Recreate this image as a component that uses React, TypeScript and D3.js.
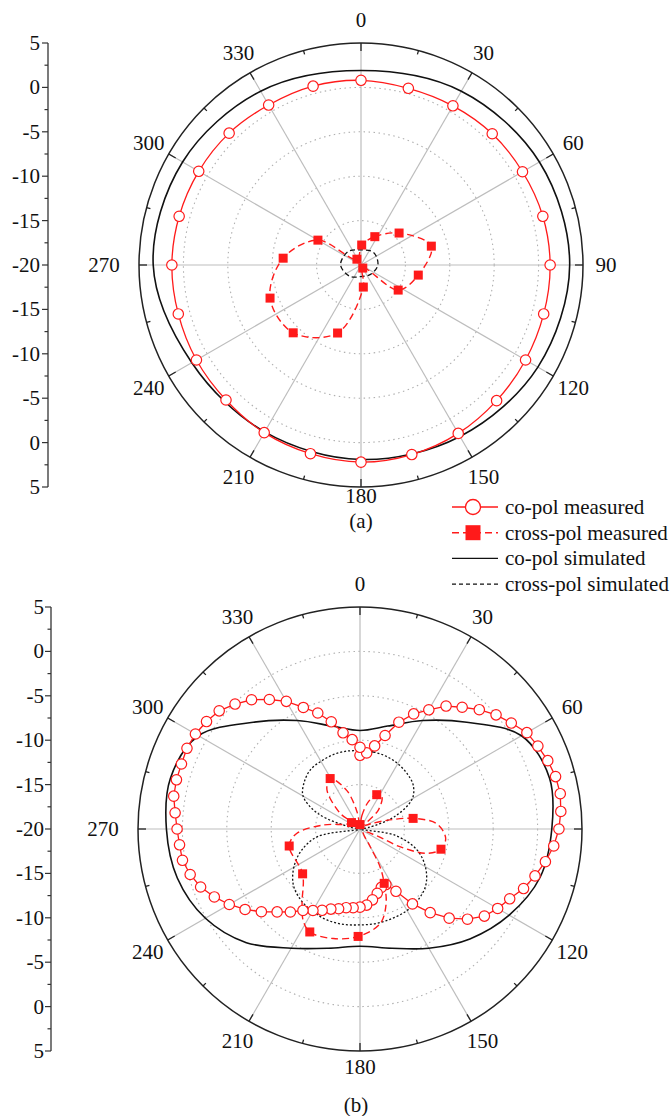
import React from 'react';
import * as d3 from 'd3';

const RAD = Math.PI / 180;
const FONT = "'Liberation Serif', 'Times New Roman', Times, serif";
const RED = '#ff1a1a';

// ---------- data (dB) ----------
const POLAR_TICKS = [0, 30, 60, 90, 120, 150, 180, 210, 240, 270, 300, 330];
const GRID_DB = [-15, -10, -5, 0];
const AXIS_UPPER = [5, 0, -5, -10, -15, -20];
const AXIS_LOWER = [-15, -10, -5, 0, 5];

// (a)
const CO_MEAS_A_ANG = [0, 15, 30, 45, 60, 75, 90, 105, 120, 135, 150, 165, 180, 195, 210, 225, 240, 255, 270, 285, 300, 315, 330, 345];
const CO_MEAS_A = [0.8, 0.6, 0.7, 0.9, 1.0, 1.2, 1.3, 1.3, 1.4, 1.6, 1.9, 2.1, 2.2, 2.0, 1.8, 1.5, 1.4, 1.3, 1.3, 1.2, 1.1, 1.0, 0.8, 0.85];
const CO_SIM_A_ANG = [0, 30, 60, 90, 120, 150, 180, 210, 240, 270, 300, 330];
const CO_SIM_A = [1.9, 2.6, 3.2, 3.5, 3.0, 2.3, 1.9, 1.7, 2.0, 3.4, 3.2, 2.6];
const CROSS_MEAS_A_ANG = [2, 26, 50, 75, 100, 124, 150, 174, 199, 225, 250, 275, 300, 325];
const CROSS_MEAS_A = [-17.75, -16.45, -14.4, -11.8, -13.45, -14.95, -19.6, -17.5, -11.9, -9.2, -9.1, -11.2, -14.4, -19.2];
const CROSS_MEAS_A_MARK = [0, 1, 2, 3, 4, 5, 6, 7, 8, 9, 10, 11, 12, 13];
const CROSS_SIM_A_ANG = [0, 45, 90, 135, 180, 225, 270, 315];
const CROSS_SIM_A = [-18.3, -18.0, -18.1, -18.5, -18.7, -18.2, -17.7, -17.9];

// (b)
const CO_MEAS_B_ANG = d3.range(0, 361, 5);
const CO_MEAS_B = [
  -11.7, -11.4, -10.5, -9.1, -7.2, -5.7, -4.5, -3.1, -2.1, -1.0,
  0.0, 0.8, 1.7, 2.1, 2.5, 2.8, 2.9, 2.7, 2.4, 1.9,
  1.2, 0.4, -0.4, -1.4, -2.1, -2.9, -4.2, -5.8, -7.7, -9.7,
  -11.9, -13.1, -13.0, -12.5, -11.9, -11.4, -11.2, -11.1, -11.0, -10.7,
  -10.4, -9.9, -9.4, -8.8, -7.8, -6.8, -5.5, -4.2, -3.0, -1.9,
  -0.9, -0.2, 0.3, 0.4, 0.6, 0.9, 1.3, 1.4, 1.4, 1.5,
  1.4, 1.1, 0.7, -0.1, -1.0, -2.2, -3.4, -4.9, -6.1, -7.5,
  -9.0, -9.9, -10.8,
];
const CO_SIM_B_ANG = [0, 15, 30, 45, 60, 75, 90, 105, 120, 135, 150, 165, 180, 195, 210, 225, 240, 255, 270, 285, 300, 315, 330, 345];
const CO_SIM_B = [-8.9, -8.0, -5.9, -3.0, 1.0, 2.1, 1.6, 1.0, -0.6, -2.5, -4.5, -6.1, -6.8, -6.1, -4.5, -1.9, 0.1, 1.3, 1.8, 2.1, 1.0, -3.0, -5.9, -8.0];
const CROSS_MEAS_B_ANG = [0, 8, 17, 26, 34, 44, 52, 65, 73, 78.7, 86, 96, 104, 110, 114, 112, 130, 150, 152, 156, 160.7, 168, 181, 193.7, 206, 212, 218, 232, 256.5, 266, 276, 290, 307, 308.5, 320, 329.4, 341, 350];
const CROSS_MEAS_B = [-19.5, -18.5, -16.8, -15.7, -15.6, -17.0, -19.3, -18.5, -16.5, -13.9, -11.35, -10.3, -10.6, -12.0, -15.1, -18.0, -19.5, -17.7, -15.2, -13.3, -11.1, -9.1, -7.9, -7.3, -7.1, -7.9, -9.4, -11.8, -11.8, -12.85, -15.8, -18.4, -18.8, -17.1, -14.2, -13.4, -15.4, -18.0];
const CROSS_MEAS_B_MARK = [0, 3, 9, 12, 19, 22, 24, 27, 28, 32, 35];
const CROSS_SIM_B_ANG = d3.range(0, 360, 10);
const CROSS_SIM_B = [
  -11.2, -11.2, -11.3, -11.5, -11.8, -12.2, -13.2, -15.8, -19.0, -20,
  -16.0, -13.2, -11.5, -10.3, -9.7, -9.4, -9.3, -9.2, -9.2, -9.1,
  -9.1, -9.3, -9.6, -10.2, -11.4, -13.0, -15.2, -20, -19.0, -15.0,
  -12.6, -11.8, -11.3, -11.2, -11.1, -11.1,
];

const R = 222;
const rScale = d3.scaleLinear().domain([-20, 5]).range([0, R]).clamp(true);

type P = [number, number];
const zip = (a: number[], v: number[]): P[] => a.map((x, i) => [x, v[i]]);

const radial = (curve: d3.CurveFactory) =>
  d3.lineRadial<P>().angle(d => d[0] * RAD).radius(d => rScale(d[1])).curve(curve);

function PolarChart(props: {
  cx: number; cy: number; axisX: number; axisLabelX: number;
  coMeas: P[]; coMeasClosed: boolean; coSim: P[]; crossMeas: P[]; crossMark: number[]; crossSim: P[];
  crossSimDash: string; hide90?: boolean; title: string; titleX: number; titleY: number; labelR180: number;
}) {
  const { cx, cy, axisX, axisLabelX } = props;
  const pt = (a: number, r: number) => d3.pointRadial(a * RAD, r);
  const axisTicks: { y: number; major: boolean }[] = [];
  for (let v = -20; v <= 5.001; v += 2.5) {
    const major = Math.abs(v % 5) < 0.01;
    axisTicks.push({ y: cy - rScale(v), major });
    if (v > -20) axisTicks.push({ y: cy + rScale(v), major });
  }
  const coMeasPath = props.coMeasClosed
    ? radial(d3.curveCardinalClosed)(props.coMeas)
    : radial(d3.curveLinear)(props.coMeas);
  const labelR = (a: number) => (a === 270 ? 257 : a === 180 ? props.labelR180 : 245);
  const txt = { fontFamily: FONT, fontSize: 21, fill: '#111' } as React.CSSProperties;
  return (
    <g>
      {/* left radial axis */}
      <line x1={axisX} x2={axisX} y1={cy - R} y2={cy + R} stroke="#333" strokeWidth={1.3} />
      {axisTicks.map((t, i) => (
        <line key={i} x1={axisX - (t.major ? 6 : 3.5)} x2={axisX} y1={t.y} y2={t.y} stroke="#333" strokeWidth={1.2} />
      ))}
      {AXIS_UPPER.map(v => (
        <text key={'u' + v} x={axisLabelX} y={cy - rScale(v)} textAnchor="end" dominantBaseline="central" style={txt}>{v}</text>
      ))}
      {AXIS_LOWER.map(v => (
        <text key={'l' + v} x={axisLabelX} y={cy + rScale(v)} textAnchor="end" dominantBaseline="central" style={txt}>{v}</text>
      ))}
      <g transform={`translate(${cx},${cy})`}>
        {/* grid */}
        {GRID_DB.map(v => (
          <circle key={v} r={rScale(v)} fill="none" stroke="#b0b0b0" strokeWidth={1.1} strokeDasharray="1.5,3.5" />
        ))}
        {POLAR_TICKS.map(a => {
          const [x, y] = pt(a, R);
          return <line key={a} x1={0} y1={0} x2={x} y2={y} stroke="#bdbdbd" strokeWidth={1.2} />;
        })}
        <circle r={R} fill="none" stroke="#222" strokeWidth={1.5} />
        {d3.range(0, 360, 15).map(a => {
          const len = a % 30 === 0 ? 8 : 4;
          const [x1, y1] = pt(a, R);
          const [x2, y2] = pt(a, R - len);
          return <line key={a} x1={x1} y1={y1} x2={x2} y2={y2} stroke="#222" strokeWidth={1.3} />;
        })}
        {POLAR_TICKS.filter(a => !(props.hide90 && a === 90)).map(a => {
          const [x, y] = pt(a, labelR(a));
          return (
            <text key={a} x={x} y={y} textAnchor="middle" dominantBaseline="central" style={txt}>{a}</text>
          );
        })}
        {/* simulated */}
        <path d={radial(d3.curveCatmullRomClosed)(props.coSim) || ''} fill="none" stroke="#111" strokeWidth={1.6} />
        <path d={radial(d3.curveCatmullRomClosed)(props.crossSim) || ''} fill="none" stroke="#111" strokeWidth={1.3} strokeDasharray={props.crossSimDash} />
        {/* measured */}
        <path d={coMeasPath || ''} fill="none" stroke={RED} strokeWidth={1.3} />
        <path d={radial(d3.curveCatmullRomClosed)(props.crossMeas) || ''} fill="none" stroke={RED} strokeWidth={1.4} strokeDasharray="7,4" />
        {props.coMeas.map((d, i) => {
          const [x, y] = pt(d[0], rScale(d[1]));
          return <circle key={i} cx={x} cy={y} r={5.2} fill="#fff" stroke={RED} strokeWidth={1.2} />;
        })}
        {props.crossMark.map(i => {
          const d = props.crossMeas[i];
          const [x, y] = pt(d[0], rScale(d[1]));
          return <rect key={i} x={x - 4.5} y={y - 4.5} width={9} height={9} fill={RED} />;
        })}
      </g>
      <text x={props.titleX} y={props.titleY} textAnchor="middle" dominantBaseline="central" style={txt}>{props.title}</text>
    </g>
  );
}

const LEGEND = ['co-pol measured', 'cross-pol measured', 'co-pol simulated', 'cross-pol simulated'];

function Legend({ x, y, dy }: { x: number; y: number; dy: number }) {
  return (
    <g>
      {LEGEND.map((name, i) => {
        const yy = y + i * dy;
        const color = i < 2 ? RED : '#111';
        const dash = i === 1 ? '7,4' : i === 3 ? '4,3' : undefined;
        return (
          <g key={name}>
            <line x1={x} x2={x + 46} y1={yy} y2={yy} stroke={color} strokeWidth={1.4} strokeDasharray={dash} />
            {i === 0 && <circle cx={x + 21} cy={yy} r={7.5} fill="#fff" stroke={RED} strokeWidth={1.3} />}
            {i === 1 && <rect x={x + 21 - 7.5} y={yy - 7.5} width={15} height={15} fill={RED} />}
            <text x={x + 53} y={yy} dominantBaseline="central" style={{ fontFamily: FONT, fontSize: 21, fill: '#111' }}>{name}</text>
          </g>
        );
      })}
    </g>
  );
}

export default function App() {
  return (
    <svg width={670} height={1116} style={{ position: 'absolute', left: 0, top: 0, background: '#fff' }}>
      <rect width={670} height={1116} fill="#fff" />
      <PolarChart
        cx={361} cy={265} axisX={48} axisLabelX={40}
        coMeas={zip(CO_MEAS_A_ANG, CO_MEAS_A)} coMeasClosed={true}
        coSim={zip(CO_SIM_A_ANG, CO_SIM_A)}
        crossMeas={zip(CROSS_MEAS_A_ANG, CROSS_MEAS_A)} crossMark={CROSS_MEAS_A_MARK}
        crossSim={zip(CROSS_SIM_A_ANG, CROSS_SIM_A)}
        crossSimDash="5,3" title="(a)" titleX={361} titleY={521} labelR180={231}
      />
      <PolarChart
        cx={360} cy={829} axisX={51} axisLabelX={44}
        coMeas={zip(CO_MEAS_B_ANG, CO_MEAS_B)} coMeasClosed={false}
        coSim={zip(CO_SIM_B_ANG, CO_SIM_B)}
        crossMeas={zip(CROSS_MEAS_B_ANG, CROSS_MEAS_B)} crossMark={CROSS_MEAS_B_MARK}
        crossSim={zip(CROSS_SIM_B_ANG, CROSS_SIM_B)}
        crossSimDash="2,2" hide90={true} title="(b)" titleX={356} titleY={1105} labelR180={238}
      />
      <Legend x={452} y={507} dy={25.7} />
    </svg>
  );
}
